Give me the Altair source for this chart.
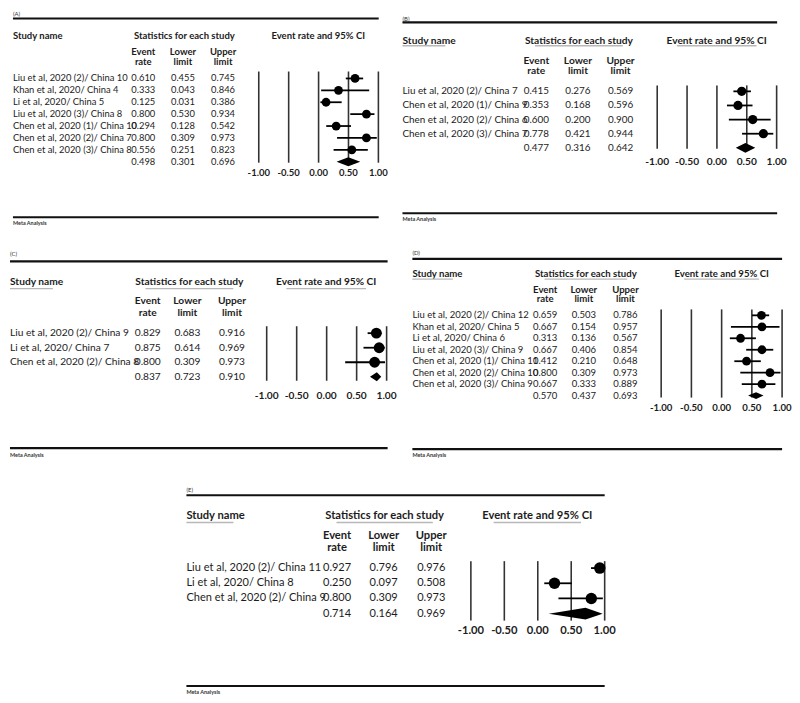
import altair as alt
import pandas as pd

# ---------------- data ----------------
tick_values = [-1.0, -0.5, 0.0, 0.5, 1.0]
tick_labels = ["-1.00", "-0.50", "0.00", "0.50", "1.00"]

a_names = ["Liu et al, 2020 (2)/ China 10", "Khan et al, 2020/ China 4", "Li et al, 2020/ China 5",
           "Liu et al, 2020 (3)/ China 8", "Chen et al, 2020 (1)/ China 10", "Chen et al, 2020 (2)/ China 7",
           "Chen et al, 2020 (3)/ China 8"]
a_rate = [0.610, 0.333, 0.125, 0.800, 0.294, 0.800, 0.556]
a_lower = [0.455, 0.043, 0.031, 0.530, 0.128, 0.309, 0.251]
a_upper = [0.745, 0.846, 0.386, 0.934, 0.542, 0.973, 0.823]
a_pooled = [0.498, 0.301, 0.696]

b_names = ["Liu et al, 2020 (2)/ China 7", "Chen et al, 2020 (1)/ China 9", "Chen et al, 2020 (2)/ China 6",
           "Chen et al, 2020 (3)/ China 7"]
b_rate = [0.415, 0.353, 0.600, 0.778]
b_lower = [0.276, 0.168, 0.200, 0.421]
b_upper = [0.569, 0.596, 0.900, 0.944]
b_pooled = [0.477, 0.316, 0.642]

c_names = ["Liu et al, 2020 (2)/ China 9", "Li et al, 2020/ China 7", "Chen et al, 2020 (2)/ China 8"]
c_rate = [0.829, 0.875, 0.800]
c_lower = [0.683, 0.614, 0.309]
c_upper = [0.916, 0.969, 0.973]
c_pooled = [0.837, 0.723, 0.910]

d_names = ["Liu et al, 2020 (2)/ China 12", "Khan et al, 2020/ China 5", "Li et al, 2020/ China 6",
           "Liu et al, 2020 (3)/ China 9", "Chen et al, 2020 (1)/ China 11", "Chen et al, 2020 (2)/ China 10",
           "Chen et al, 2020 (3)/ China 9"]
d_rate = [0.659, 0.667, 0.313, 0.667, 0.412, 0.800, 0.667]
d_lower = [0.503, 0.154, 0.136, 0.406, 0.210, 0.309, 0.333]
d_upper = [0.786, 0.957, 0.567, 0.854, 0.648, 0.973, 0.889]
d_pooled = [0.570, 0.437, 0.693]

e_names = ["Liu et al, 2020 (2)/ China 11", "Li et al, 2020/ China 8", "Chen et al, 2020 (2)/ China 9"]
e_rate = [0.927, 0.250, 0.800]
e_lower = [0.796, 0.097, 0.309]
e_upper = [0.976, 0.508, 0.973]
e_pooled = [0.714, 0.164, 0.969]

# ---------------- layout / style ----------------
M = 8
FONT = "Lato"
INK = "#1c1c1c"
ONE = pd.DataFrame({"k": [0]})


def P(v):
    return v - M


def stext(txt, x, y, size, align="left", weight="normal", color=INK):
    return alt.Chart(ONE).mark_text(
        text=txt, align=align, baseline="middle", font=FONT, fontSize=size,
        fontWeight=weight, color=color
    ).encode(x=alt.value(P(x)), y=alt.value(P(y)))


def hline(x1, x2, y, w, color):
    return alt.Chart(ONE).mark_rule(color=color, strokeWidth=w).encode(
        x=alt.value(P(x1)), x2=alt.value(P(x2)), y=alt.value(P(y)))


def panel(names, rate, lower, upper, pooled, L):
    n = len(names)
    xs = alt.Scale(domain=[-1, 1], range=[P(L["fx0"]), P(L["fx1"])], nice=False, zero=False)
    ys = alt.Scale(domain=[0, n], range=[P(L["r0"]), P(L["rN"])], nice=False, zero=False)
    fs = L["fs"]
    hs = L["hs"]
    step = (L["rN"] - L["r0"]) / n
    layers = []
    # label + frame lines
    layers.append(stext(L["tag"], L["x0"], L["tagy"], 6, color="#333"))
    layers.append(hline(L["x0"], L["x1"], L["topy"], 2.2, "#111"))
    layers.append(hline(L["x0"], L["x1"], L["boty"], 2.2, "#111"))
    layers.append(stext("Meta Analysis", L["x0"], L["metay"], 5.5, weight="bold", color="#333"))
    # headers
    layers.append(stext("Study name", L["x0"], L["hy"], hs, weight="bold"))
    layers.append(stext("Statistics for each study", L["sx"], L["hy"], hs, align="center", weight="bold"))
    layers.append(stext("Event rate and 95% CI", L["cx"], L["hy"], hs, align="center", weight="bold"))
    if L["ul"]:
        ul = "#b8b8b8"
        layers.append(hline(L["x0"], L["x0"] + 4.2 * hs, L["uly"], 1.4, ul))
        layers.append(hline(L["sx"] - 4.3 * hs, L["sx"] + 4.3 * hs, L["uly"], 1.4, ul))
        layers.append(hline(L["cx"] - 3.9 * hs, L["cx"] + 3.9 * hs, L["uly"], 1.4, ul))
    for top, bot, cx in (("Event", "rate", L["cev"]), ("Lower", "limit", L["clo"]), ("Upper", "limit", L["cup"])):
        layers.append(stext(top, cx, L["chy1"], hs, align="center", weight="bold"))
        layers.append(stext(bot, cx, L["chy2"], hs, align="center", weight="bold"))

    # table rows
    tab = pd.DataFrame({
        "row": list(range(n + 1)),
        "name": names + [""],
        "ev": [f"{v:.3f}" for v in rate + [pooled[0]]],
        "lo": [f"{v:.3f}" for v in lower + [pooled[1]]],
        "hi": [f"{v:.3f}" for v in upper + [pooled[2]]],
    })
    ybase = alt.Y("row:Q", scale=ys, axis=None)
    layers.append(alt.Chart(tab).mark_text(align="left", baseline="middle", font=FONT, fontSize=fs, color=INK)
                  .encode(x=alt.value(P(L["x0"])), y=ybase, text="name:N"))
    for col, cx in (("ev", L["cev"]), ("lo", L["clo"]), ("hi", L["cup"])):
        layers.append(alt.Chart(tab).mark_text(align="center", baseline="middle", font=FONT, fontSize=fs, color=INK)
                      .encode(x=alt.value(P(cx)), y=ybase, text=f"{col}:N"))

    # forest: reference lines + tick labels
    ticks = pd.DataFrame({"v": tick_values, "lab": tick_labels})
    layers.append(alt.Chart(ticks).mark_rule(color="#333", strokeWidth=1.6)
                  .encode(x=alt.X("v:Q", scale=xs, axis=None), y=alt.value(P(L["gy0"])), y2=alt.value(P(L["gy1"]))))
    layers.append(alt.Chart(ticks).mark_text(align="center", baseline="middle", font=FONT, fontSize=hs,
                                             fontWeight="bold", color=INK)
                  .encode(x=alt.X("v:Q", scale=xs, axis=None), y=alt.value(P(L["ly"])), text="lab:N"))

    studies = pd.DataFrame({"row": list(range(n)), "rate": rate, "lower": lower, "upper": upper})
    layers.append(alt.Chart(studies).mark_rule(color="#000", strokeWidth=1.8)
                  .encode(x=alt.X("lower:Q", scale=xs, axis=None), x2="upper:Q",
                          y=alt.Y("row:Q", scale=ys, axis=None)))
    layers.append(alt.Chart(studies).mark_circle(color="#000", opacity=1, size=L["dot"])
                  .encode(x=alt.X("rate:Q", scale=xs, axis=None), y=alt.Y("row:Q", scale=ys, axis=None)))

    h = L["dh"] / step
    dia = pd.DataFrame({
        "x": [pooled[1], pooled[0], pooled[2]],
        "y": [n, n - h, n],
        "y2": [n, n + h, n],
    })
    layers.append(alt.Chart(dia).mark_area(color="#000", opacity=1)
                  .encode(x=alt.X("x:Q", scale=xs, axis=None), y=alt.Y("y:Q", scale=ys, axis=None), y2="y2:Q"))
    return layers


LA = dict(tag="(A)", tagy=10, x0=12, x1=381, topy=14.5, boty=215, metay=221, fs=9.45, hs=9.6, hy=32, ul=False, uly=0,
          sx=185, cx=320, chy1=48, chy2=58, cev=143.5, clo=183.5, cup=224, r0=75, rN=159,
          fx0=260, fx1=380.7, gy0=68, gy1=160, ly=170, dot=79, dh=4.5)
LB = dict(tag="(B)", tagy=15, x0=405, x1=783, topy=18.5, boty=211, metay=217, fs=9.95, hs=10.3, hy=37, ul=True, uly=42,
          sx=583, cx=722, chy1=57, chy2=68, cev=540, clo=582, cup=625, r0=88, rN=145,
          fx0=662, fx1=782.5, gy0=82, gy1=146, ly=159, dot=87, dh=5)
LC = dict(tag="(C)", tagy=252, x0=9, x1=390, topy=259.5, boty=448, metay=455, fs=10.3, hs=10.3, hy=280.5, ul=True,
          uly=287, sx=190, cx=328, chy1=300, chy2=312, cev=148, clo=188, cup=233, r0=332, rN=376,
          fx0=268, fx1=389, gy0=325, gy1=380, ly=395, dot=120, dh=4.5)
LD = dict(tag="(D)", tagy=251.5, x0=415, x1=788, topy=257, boty=449, metay=455, fs=9.6, hs=9.7, hy=272, ul=True,
          uly=277.5, sx=590, cx=727, chy1=288, chy2=298, cev=549, clo=588, cup=630, r0=314, rN=395,
          fx0=666, fx1=788, gy0=308, gy1=397, ly=408, dot=79, dh=3.5)
LE = dict(tag="(E)", tagy=490, x0=187, x1=609, topy=495.5, boty=688, metay=694, fs=11.1, hs=11.3, hy=516, ul=True,
          uly=523, sx=387, cx=541, chy1=537, chy2=549, cev=339, clo=386, cup=434, r0=569, rN=615,
          fx0=474, fx1=609, gy0=562, gy1=622, ly=633, dot=133, dh=6)

all_layers = []
all_layers += panel(a_names, a_rate, a_lower, a_upper, a_pooled, LA)
all_layers += panel(b_names, b_rate, b_lower, b_upper, b_pooled, LB)
all_layers += panel(c_names, c_rate, c_lower, c_upper, c_pooled, LC)
all_layers += panel(d_names, d_rate, d_lower, d_upper, d_pooled, LD)
all_layers += panel(e_names, e_rate, e_lower, e_upper, e_pooled, LE)

chart = (
    alt.layer(*all_layers)
    .resolve_scale(x="independent", y="independent")
    .properties(width=784, height=687, padding=0, background="white")
    .configure_view(stroke=None)
)

chart.save("out.html", embed_options={"renderer": "svg", "actions": False})
